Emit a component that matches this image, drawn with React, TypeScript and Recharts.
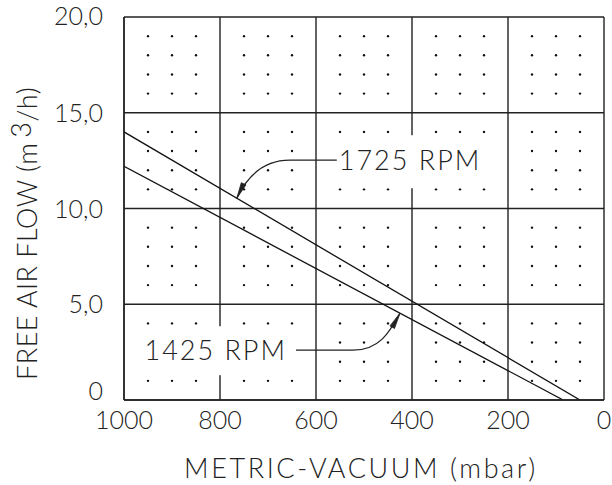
import React from 'react';
import { ComposedChart, Line, Scatter, XAxis, YAxis, CartesianGrid, ReferenceDot } from 'recharts';

const xTicks = [0, 200, 400, 600, 800, 1000];
const yTicks = [0, 5, 10, 15, 20];
const yTickLabels: Record<number, string> = { 0: '0', 5: '5,0', 10: '10,0', 15: '15,0', 20: '20,0' };
const rpm1725 = [{ x: 1000, y: 14.0 }, { x: 50, y: 0 }];
const rpm1425 = [{ x: 1000, y: 12.2 }, { x: 85, y: 0 }];
const dotXs = [50, 100, 150, 250, 300, 350, 450, 500, 550, 650, 700, 750, 850, 900, 950];
const dotYs = [1, 2, 3, 4, 6, 7, 8, 9, 11, 12, 13, 14, 16, 17, 18, 19];
const anchor1725 = 765;
const anchor1425 = 425;

const dotGrid = dotXs.flatMap((x) => dotYs.map((y) => ({ x, y })));

function lineAt(data: { x: number; y: number }[], x: number) {
  const [a, b] = data;
  return a.y + ((x - a.x) * (b.y - a.y)) / (b.x - a.x);
}

const FONT = 'Lato, Roboto, "Liberation Sans", sans-serif';
const W = 300;
const INK = '#222';

const Dot = (props: any) => <circle cx={props.cx} cy={props.cy} r={1.2} fill="#111" />;

const XTick = (props: any) => {
  const { x, y, payload } = props;
  return (
    <text x={x} y={y + 21} textAnchor="middle" fontFamily={FONT} fontWeight={W} fontSize={25} fill={INK}>
      {String(payload.value)}
    </text>
  );
};

const YTick = (props: any) => {
  const { x, y, payload } = props;
  const shift = payload.value === 0 ? -9 : payload.value === 20 ? -1 : 0;
  return (
    <text x={x} y={y + 9 + shift} textAnchor="end" fontFamily={FONT} fontWeight={W} fontSize={25} fill={INK}>
      {yTickLabels[payload.value]}
    </text>
  );
};

function arrowHead(cx: number, cy: number, dx: number, dy: number) {
  const len = Math.hypot(dx, dy);
  const ux = dx / len;
  const uy = dy / len;
  const px = -uy;
  const py = ux;
  const L = 16;
  const Wd = 2.6;
  return `M${cx},${cy} L${cx + L * ux + Wd * px},${cy + L * uy + Wd * py} L${cx + L * ux - Wd * px},${cy + L * uy - Wd * py} Z`;
}

const Label1725 = (props: any) => {
  const { cx, cy } = props;
  if (cx == null || cy == null) return null;
  return (
    <g>
      <rect x={cx + 93} y={cy - 63} width={165} height={53} fill="#fff" />
      <path d={`M${cx},${cy} C${cx + 9},${cy - 19} ${cx + 25},${cy - 38} ${cx + 53},${cy - 38} L${cx + 100},${cy - 38}`} fill="none" stroke={INK} strokeWidth={1.3} />
      <path d={arrowHead(cx, cy, 9, -19)} fill={INK} stroke={INK} strokeWidth={0.8} />
      <text x={cx + 102} y={cy - 28} fontFamily={FONT} fontWeight={W} fontSize={27} letterSpacing={2} fill={INK}>
        1725 RPM
      </text>
    </g>
  );
};

const Label1425 = (props: any) => {
  const { cx, cy } = props;
  if (cx == null || cy == null) return null;
  return (
    <g>
      <rect x={cx - 265} y={cy + 13} width={175} height={49} fill="#fff" />
      <path d={`M${cx},${cy} C${cx - 10},${cy + 18} ${cx - 20},${cy + 37} ${cx - 47},${cy + 37} L${cx - 104},${cy + 37}`} fill="none" stroke={INK} strokeWidth={1.3} />
      <path d={arrowHead(cx, cy, -10, 18)} fill={INK} stroke={INK} strokeWidth={0.8} />
      <text x={cx - 113} y={cy + 47} textAnchor="end" fontFamily={FONT} fontWeight={W} fontSize={27} letterSpacing={2} fill={INK}>
        1425 RPM
      </text>
    </g>
  );
};

const XTitle = (props: any) => {
  const vb = props.viewBox || {};
  return (
    <text x={vb.x + vb.width / 2 - 3} y={478} textAnchor="middle" fontFamily={FONT} fontWeight={W} fontSize={27} letterSpacing={2.6} fill={INK}>
      METRIC-VACUUM (mbar)
    </text>
  );
};

const YTitle = () => {
  const cx = 37;
  const cy = 380;
  return (
    <text x={cx} y={cy} transform={`rotate(-90 ${cx} ${cy})`} textAnchor="start" fontFamily={FONT} fontWeight={W} fontSize={27} letterSpacing={0.5} fill={INK}>
      FREE AIR FLOW (m
      <tspan dx={5} dy={-6}>3</tspan>
      <tspan dy={6}>/h)</tspan>
    </text>
  );
};

export default function App() {
  return (
    <div style={{ position: 'absolute', left: 0, top: 0, width: 612, height: 485, background: '#fff' }}>
      <ComposedChart width={612} height={485} margin={{ top: 17, right: 8, bottom: 0, left: 0 }}>
        <CartesianGrid stroke={INK} strokeWidth={1.4} horizontalValues={yTicks} verticalValues={xTicks} />
        <XAxis
          type="number"
          dataKey="x"
          domain={[0, 1000]}
          reversed
          ticks={xTicks}
          tickLine={false}
          axisLine={{ stroke: INK, strokeWidth: 1.4 }}
          height={85}
          tick={<XTick />}
          interval={0}
          label={<XTitle />}
          allowDataOverflow
        />
        <YAxis
          type="number"
          dataKey="y"
          domain={[0, 20]}
          ticks={yTicks}
          tickLine={false}
          axisLine={{ stroke: INK, strokeWidth: 1.4 }}
          width={124}
          tickSize={0}
          tickMargin={21}
          tick={<YTick />}
          interval={0}
          label={<YTitle />}
          allowDataOverflow
        />
        <Scatter data={dotGrid} dataKey="y" shape={<Dot />} isAnimationActive={false} />
        <Line data={rpm1725} dataKey="y" type="linear" stroke="#111" strokeWidth={1.3} dot={false} isAnimationActive={false} />
        <Line data={rpm1425} dataKey="y" type="linear" stroke="#111" strokeWidth={1.3} dot={false} isAnimationActive={false} />
        <ReferenceDot x={anchor1725} y={lineAt(rpm1725, anchor1725)} shape={<Label1725 />} />
        <ReferenceDot x={anchor1425} y={lineAt(rpm1425, anchor1425)} shape={<Label1425 />} />
      </ComposedChart>
    </div>
  );
}
